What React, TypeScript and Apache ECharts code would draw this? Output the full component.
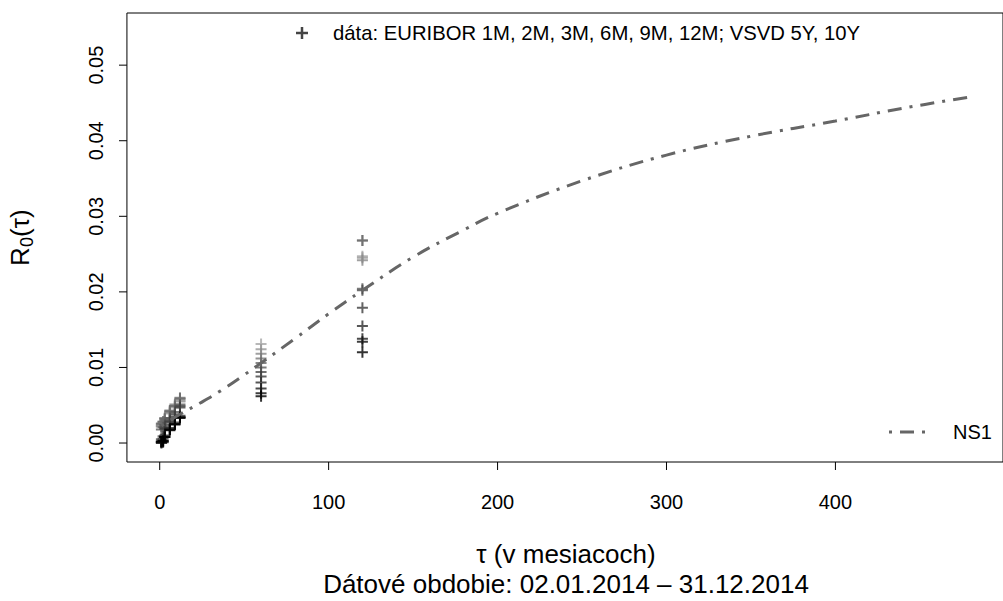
import React, { useEffect, useRef } from "react";
import * as echarts from "echarts";

// Maturities (months) of the short-term rates
const TAU_SHORT = [1, 2, 3, 6, 9, 12];
const TAU_5Y = 60;
const TAU_10Y = 120;

// Observation months of 2014 (lightest = earliest, black = latest)
const MONTHS = ["01", "02", "03", "04", "05", "06", "07", "08", "09", "10", "11", "12"];

// EURIBOR rates (decimal), one value per month
const EURIBOR_1M = [0.0022, 0.0022, 0.0023, 0.0025, 0.0026, 0.0018, 0.0005, 0.0002, 0.0001, 0.0000, 0.0001, 0.0002];
const EURIBOR_2M = [0.0025, 0.0025, 0.0026, 0.0028, 0.0028, 0.0021, 0.0009, 0.0006, 0.0003, 0.0001, 0.0002, 0.0003];
const EURIBOR_3M = [0.0029, 0.0029, 0.0031, 0.0033, 0.0032, 0.0024, 0.0021, 0.0019, 0.0010, 0.0008, 0.0008, 0.0008];
const EURIBOR_6M = [0.0040, 0.0039, 0.0041, 0.0043, 0.0042, 0.0033, 0.0030, 0.0028, 0.0020, 0.0018, 0.0018, 0.0017];
const EURIBOR_9M = [0.0048, 0.0047, 0.0049, 0.0051, 0.0049, 0.0041, 0.0038, 0.0035, 0.0027, 0.0025, 0.0025, 0.0025];
const EURIBOR_12M = [0.0056, 0.0055, 0.0058, 0.0060, 0.0059, 0.0051, 0.0049, 0.0047, 0.0036, 0.0034, 0.0034, 0.0033];

// VSVD (government bond) yields
const VSVD_5Y = [0.0131, 0.0124, 0.0118, 0.0112, 0.0106, 0.0100, 0.0094, 0.0088, 0.0080, 0.0072, 0.0066, 0.0062];
const VSVD_10Y = [0.0247, 0.0245, 0.0242, 0.0268, 0.0268, 0.0204, 0.0202, 0.0179, 0.0155, 0.0138, 0.0134, 0.0120];

// NS1 fitted curve
const CURVE_TAU = [1, 12, 24, 36, 48, 60, 80, 100, 120, 150, 180, 200, 250, 300, 350, 400, 440, 480];
const CURVE_R = [0.0023, 0.0038, 0.0053, 0.0069, 0.0087, 0.0106, 0.0138, 0.0171, 0.0202, 0.0246, 0.0282, 0.0304, 0.0347, 0.0381, 0.0406, 0.0426, 0.0443, 0.0458];

// Axis ticks and plot-box ranges
const X_TICKS = [0, 100, 200, 300, 400];
const Y_TICKS = [0, 0.01, 0.02, 0.03, 0.04, 0.05];
const X_MIN = -19.4;
const X_MAX = 499.2;
const Y_MIN = -0.00251;
const Y_MAX = 0.0569;

const LEGEND_DATA = "dáta: EURIBOR 1M, 2M, 3M, 6M, 9M, 12M; VSVD 5Y, 10Y";
const LEGEND_LINE = "NS1";
const X_LABEL = "τ (v mesiacoch)";
const SUBTITLE = "Dátové obdobie: 02.01.2014 – 31.12.2014";

const FONT = "'Liberation Sans', Arial, Helvetica, sans-serif";
const PLUS = "path://M4.5,0H6.5V4.5H11V6.5H6.5V11H4.5V6.5H0V4.5H4.5Z";

// Layout of the plot box (pixels) and tick length
const BOX_LEFT = 127;
const BOX_TOP = 13;
const BOX_W = 883;
const BOX_H = 449;
const TICK_LEN = 8;

// Extend the grid by one tick length on the left and bottom so the outward ticks sit inside it
const X_PAD = ((X_MAX - X_MIN) * TICK_LEN) / BOX_W;
const Y_PAD = ((Y_MAX - Y_MIN) * TICK_LEN) / BOX_H;

function grayFor(i: number, n: number): string {
  const level = 0.65 * (1 - i / (n - 1));
  const v = Math.round(level * 255);
  const h = v.toString(16).padStart(2, "0");
  return "#" + h + h + h;
}

export default function App() {
  const ref = useRef<HTMLDivElement>(null);

  useEffect(() => {
    if (!ref.current) return;
    const chart = echarts.init(ref.current, undefined, { renderer: "svg" });

    const shortSets = [EURIBOR_1M, EURIBOR_2M, EURIBOR_3M, EURIBOR_6M, EURIBOR_9M, EURIBOR_12M];
    const points: any[] = [];
    MONTHS.forEach((m, i) => {
      const color = grayFor(i, MONTHS.length);
      shortSets.forEach((set, k) => {
        points.push({ value: [TAU_SHORT[k], set[i]], itemStyle: { color } });
      });
      points.push({ value: [TAU_5Y, VSVD_5Y[i]], itemStyle: { color } });
      points.push({ value: [TAU_10Y, VSVD_10Y[i]], itemStyle: { color } });
    });

    const curve = CURVE_TAU.map((t, i) => [t, CURVE_R[i]]);

    const plusX = 302;
    const plusY = 33;

    chart.setOption({
      animation: false,
      backgroundColor: "#ffffff",
      grid: {
        left: BOX_LEFT - TICK_LEN,
        top: BOX_TOP,
        width: BOX_W + TICK_LEN,
        height: BOX_H + TICK_LEN,
        show: false,
      },
      xAxis: {
        type: "value",
        min: X_MIN - X_PAD,
        max: X_MAX,
        axisLine: { show: false, onZero: false },
        splitLine: { show: false },
        axisTick: { show: false },
        axisLabel: {
          customValues: X_TICKS,
          fontSize: 20,
          fontFamily: FONT,
          color: "#000",
          margin: 22,
          formatter: (v: number) => String(v),
        },
      },
      yAxis: {
        type: "value",
        min: Y_MIN - Y_PAD,
        max: Y_MAX,
        axisLine: { show: false, onZero: false },
        splitLine: { show: false },
        axisTick: { show: false },
        axisLabel: {
          customValues: Y_TICKS,
          rotate: 90,
          fontSize: 20,
          fontFamily: FONT,
          color: "#000",
          margin: 13,
          formatter: (v: number) => v.toFixed(2),
        },
      },
      series: [
        {
          type: "scatter",
          name: LEGEND_DATA,
          symbol: PLUS,
          symbolSize: 11,
          data: points,
          z: 2,
        },
        {
          type: "line",
          name: LEGEND_LINE,
          data: curve,
          smooth: 0.4,
          showSymbol: false,
          symbol: "none",
          lineStyle: { color: "#666666", width: 3, type: [3, 8, 14, 8], cap: "butt" },
          z: 3,
        },
        {
          type: "custom",
          name: "box",
          silent: true,
          data: [[X_MIN, Y_MIN]],
          renderItem: (params: any, api: any) => {
            const p0 = api.coord([X_MIN, Y_MAX]);
            const p1 = api.coord([X_MAX, Y_MIN]);
            return {
              type: "rect",
              shape: { x: p0[0], y: p0[1], width: p1[0] - p0[0], height: p1[1] - p0[1] },
              style: { fill: "none", stroke: "#000", lineWidth: 1 },
            };
          },
          z: 4,
        },
        {
          type: "custom",
          name: "xTicks",
          silent: true,
          data: X_TICKS.map((v) => [v, Y_MIN]),
          renderItem: (params: any, api: any) => {
            const p = api.coord([api.value(0), api.value(1)]);
            const q = api.coord([api.value(0), Y_MIN - Y_PAD]);
            return {
              type: "line",
              shape: { x1: p[0], y1: p[1], x2: q[0], y2: q[1] },
              style: { stroke: "#000", lineWidth: 1 },
            };
          },
          z: 5,
        },
        {
          type: "custom",
          name: "yTicks",
          silent: true,
          data: Y_TICKS.map((v) => [X_MIN, v]),
          renderItem: (params: any, api: any) => {
            const p = api.coord([api.value(0), api.value(1)]);
            const q = api.coord([X_MIN - X_PAD, api.value(1)]);
            return {
              type: "line",
              shape: { x1: q[0], y1: p[1], x2: p[0], y2: p[1] },
              style: { stroke: "#000", lineWidth: 1 },
            };
          },
          z: 5,
        },
      ],
      graphic: [
        { type: "rect", shape: { x: plusX - 6, y: plusY - 1.25, width: 12, height: 2.5 }, style: { fill: "#444" } },
        { type: "rect", shape: { x: plusX - 1.25, y: plusY - 6, width: 2.5, height: 12 }, style: { fill: "#444" } },
        {
          type: "text",
          x: 333,
          y: plusY,
          style: { text: LEGEND_DATA, font: `20.3px ${FONT}`, fill: "#000", textAlign: "left", textVerticalAlign: "middle" },
        },
        {
          type: "line",
          shape: { x1: 889, y1: 432, x2: 932, y2: 432 },
          style: { stroke: "#666666", lineWidth: 3, lineDash: [3, 8, 14, 8] },
        },
        {
          type: "text",
          x: 953,
          y: 432,
          style: { text: LEGEND_LINE, font: `20px ${FONT}`, fill: "#000", textAlign: "left", textVerticalAlign: "middle" },
        },
        {
          type: "text",
          x: 566,
          y: 554,
          style: { text: X_LABEL, font: `26px ${FONT}`, fill: "#000", textAlign: "center", textVerticalAlign: "middle" },
        },
        {
          type: "text",
          x: 566,
          y: 584,
          style: { text: SUBTITLE, font: `26px ${FONT}`, fill: "#000", textAlign: "center", textVerticalAlign: "middle" },
        },
        {
          type: "group",
          x: 20,
          y: 237,
          rotation: Math.PI / 2,
          children: [
            { type: "text", x: -29, y: 0, style: { text: "R", font: `26px ${FONT}`, fill: "#000", textAlign: "left", textVerticalAlign: "middle" } },
            { type: "text", x: -10, y: 7, style: { text: "0", font: `18px ${FONT}`, fill: "#000", textAlign: "left", textVerticalAlign: "middle" } },
            { type: "text", x: 0, y: 0, style: { text: "(τ)", font: `26px ${FONT}`, fill: "#000", textAlign: "left", textVerticalAlign: "middle" } },
          ],
        },
      ],
    });

    return () => chart.dispose();
  }, []);

  return (
    <div
      ref={ref}
      style={{ position: "fixed", left: 0, top: 0, width: 1003, height: 601, background: "#fff" }}
    />
  );
}
